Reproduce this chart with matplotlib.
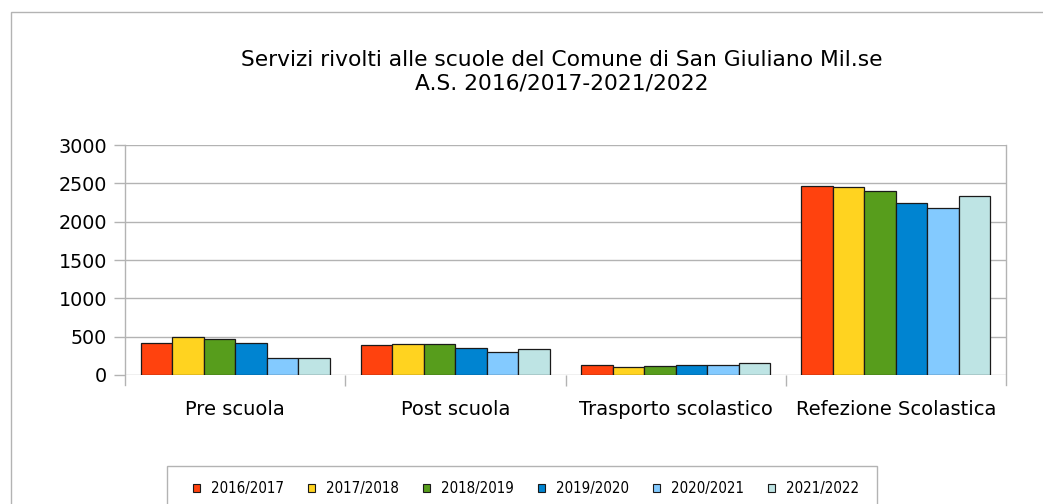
import matplotlib.pyplot as plt
import numpy as np
from matplotlib.patches import Rectangle
from matplotlib import font_manager

categories = ["Pre scuola", "Post scuola", "Trasporto scolastico", "Refezione Scolastica"]
years = ["2016/2017", "2017/2018", "2018/2019", "2019/2020", "2020/2021", "2021/2022"]
values = {
    "2016/2017": [417, 395, 127, 2465],
    "2017/2018": [500, 399, 110, 2447],
    "2018/2019": [465, 408, 114, 2398],
    "2019/2020": [417, 355, 132, 2237],
    "2020/2021": [224, 303, 127, 2184],
    "2021/2022": [224, 338, 154, 2329],
}
colors = ["#ff420e", "#ffd320", "#579d1c", "#0084d1", "#83caff", "#bee4e4"]

installed = {f.name for f in font_manager.fontManager.ttflist}
narrow = "Liberation Sans Narrow" in installed

W, H = 1043, 504
fig = plt.figure(figsize=(W / 100, H / 100), dpi=100)
ax = fig.add_axes([125 / W, 129 / H, (1006 - 125) / W, (375 - 145) / H])

grey = "#b3b3b3"
x = np.arange(len(categories))
bw = 0.143
for i, (yr, col) in enumerate(zip(years, colors)):
    ax.bar(x + (i - 2.5) * bw, values[yr], bw, color=col, edgecolor="#1a1a1a",
           linewidth=0.9, label=yr, zorder=3)

ax.set_xlim(-0.5, 3.5)
ax.set_ylim(0, 3000)
ax.set_yticks(np.arange(0, 3001, 500))
ax.yaxis.grid(True, color=grey, linewidth=1.0, zorder=0)

for side in ["top", "bottom"]:
    ax.spines[side].set_visible(False)
for side in ["left", "right"]:
    ax.spines[side].set_color(grey)
    ax.spines[side].set_linewidth(1.0)
    ax.spines[side].set_bounds(-130, 3000)

ax.tick_params(axis="y", length=8, color=grey, width=1, labelsize=13.8, pad=5)
ax.set_xticks(x)
ax.set_xticklabels(categories)
ax.set_xticks(np.arange(0.5, 3.0, 1.0), minor=True)
ax.tick_params(axis="x", which="major", length=0, labelsize=14, pad=18)
ax.tick_params(axis="x", which="minor", length=8, color=grey, width=1)

fig.text(562 / W, 1 - 72 / H,
         "Servizi rivolti alle scuole del Comune di San Giuliano Mil.se\nA.S. 2016/2017-2021/2022",
         ha="center", va="center", fontsize=15.7, linespacing=1.2)

# outer chart frame and legend frame
fig.patches.append(Rectangle((11 / W, -0.1), 1.1, 1 - 12 / H + 0.1, transform=fig.transFigure,
                             fill=False, edgecolor=grey, linewidth=1.0))
fig.patches.append(Rectangle((167 / W, -0.1), (877 - 167) / W, 0.1 + (H - 466) / H,
                             transform=fig.transFigure, fill=False, edgecolor=grey, linewidth=1.0))

if narrow:
    prop = {"family": "Liberation Sans Narrow", "size": 12.8}
else:
    prop = {"family": "DejaVu Sans", "stretch": "condensed", "size": 10.8}
leg = fig.legend(loc="center", bbox_to_anchor=(526 / W, 1 - 489 / H), ncol=6, frameon=False,
                 handlelength=0.45, handleheight=0.45, handletextpad=0.75, columnspacing=1.6,
                 prop=prop)
for h in leg.legend_handles:
    h.set_linewidth(0.8)

fig.savefig("out.png", dpi=100)
